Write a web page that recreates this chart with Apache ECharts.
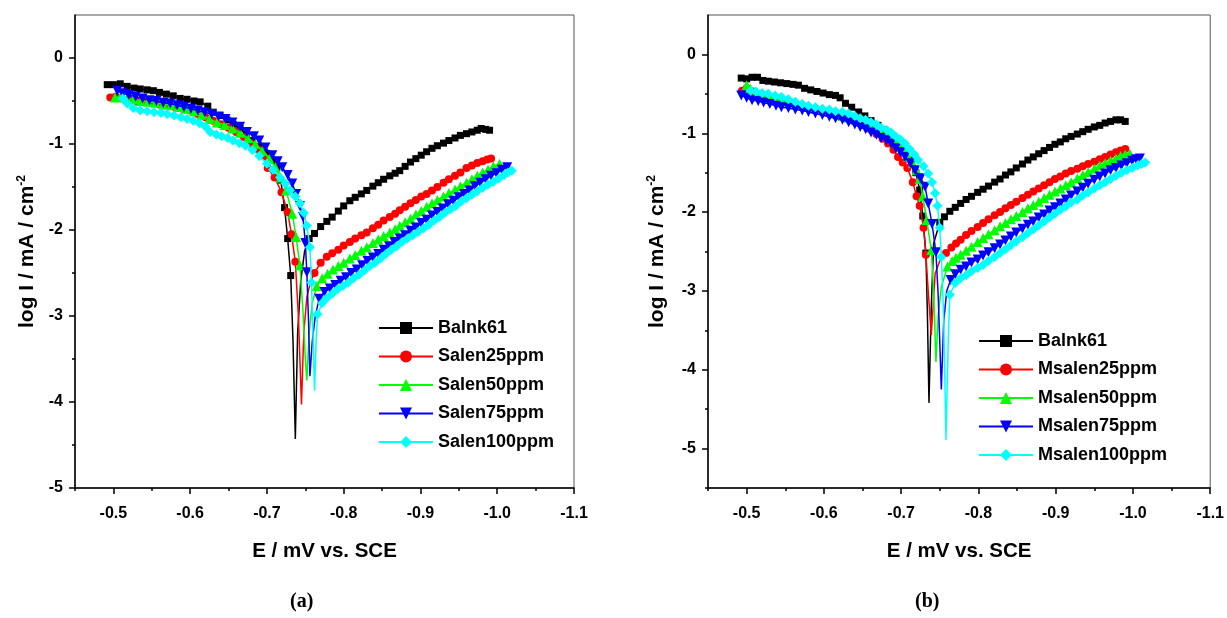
<!DOCTYPE html>
<html><head><meta charset="utf-8">
<script src="https://cdn.jsdelivr.net/npm/echarts@6/dist/echarts.min.js"></script>
<style>html,body{margin:0;padding:0;background:#fff}#c{width:1227px;height:618px}</style>
</head><body><div id="c"></div>
<script>
// ---------- tick values ----------
const xMajorTicks = [-0.5,-0.6,-0.7,-0.8,-0.9,-1.0,-1.1];
const xMinorTicks = [-0.45,-0.55,-0.65,-0.75,-0.85,-0.95,-1.05];
const yMajorTicksA = [-5,-4,-3,-2,-1,0];
const yMinorTicksA = [-4.5,-3.5,-2.5,-1.5,-0.5];
const yMajorTicksB = [-5,-4,-3,-2,-1,0];
const yMinorTicksB = [-5.5,-4.5,-3.5,-2.5,-1.5,-0.5];

const namesA = ['Balnk61','Salen25ppm','Salen50ppm','Salen75ppm','Salen100ppm'];
const namesB = ['Balnk61','Msalen25ppm','Msalen50ppm','Msalen75ppm','Msalen100ppm'];

// ---------- panel (a) : [E, log I] ----------
const aBlankCath = [[-0.492,-0.31],[-0.500,-0.31],[-0.509,-0.30],[-0.518,-0.33],[-0.527,-0.35],[-0.535,-0.36],[-0.544,-0.37],[-0.552,-0.38],[-0.560,-0.40],[-0.569,-0.42],[-0.578,-0.44],[-0.587,-0.47],[-0.596,-0.48],[-0.605,-0.50],[-0.613,-0.51],[-0.623,-0.56],[-0.630,-0.63],[-0.639,-0.67],[-0.648,-0.72],[-0.656,-0.77],[-0.665,-0.82],[-0.673,-0.89],[-0.681,-0.96],[-0.690,-1.03],[-0.700,-1.11],[-0.707,-1.19],[-0.713,-1.27],[-0.718,-1.42],[-0.723,-1.74],[-0.727,-2.10],[-0.731,-2.53]];
const aBlankSpike = [[-0.734,-3.3],[-0.737,-4.43],[-0.740,-3.2],[-0.744,-2.6],[-0.749,-2.25]];
const aBlankAnod = [[-0.755,-2.10],[-0.762,-2.04],[-0.770,-1.96],[-0.778,-1.90],[-0.785,-1.85],[-0.793,-1.78],[-0.800,-1.72],[-0.808,-1.66],[-0.815,-1.62],[-0.823,-1.58],[-0.830,-1.54],[-0.838,-1.49],[-0.845,-1.45],[-0.852,-1.41],[-0.860,-1.37],[-0.867,-1.34],[-0.873,-1.31],[-0.880,-1.26],[-0.887,-1.21],[-0.894,-1.17],[-0.901,-1.13],[-0.908,-1.09],[-0.915,-1.05],[-0.922,-1.02],[-0.930,-0.99],[-0.937,-0.96],[-0.945,-0.93],[-0.952,-0.90],[-0.960,-0.88],[-0.967,-0.86],[-0.974,-0.84],[-0.979,-0.82],[-0.985,-0.83],[-0.990,-0.84]];

const aS25Cath = [[-0.496,-0.46],[-0.503,-0.45],[-0.511,-0.47],[-0.520,-0.48],[-0.530,-0.50],[-0.540,-0.51],[-0.550,-0.52],[-0.560,-0.54],[-0.570,-0.55],[-0.580,-0.57],[-0.590,-0.59],[-0.600,-0.61],[-0.610,-0.65],[-0.620,-0.69],[-0.630,-0.73],[-0.640,-0.77],[-0.650,-0.81],[-0.660,-0.86],[-0.670,-0.92],[-0.680,-0.99],[-0.690,-1.07],[-0.696,-1.14],[-0.701,-1.28],[-0.710,-1.39],[-0.719,-1.56],[-0.727,-1.79],[-0.732,-2.05],[-0.737,-2.37]];
const aS25Spike = [[-0.741,-3.0],[-0.745,-4.03],[-0.748,-3.2],[-0.752,-2.78],[-0.757,-2.6]];
const aS25Anod = [[-0.762,-2.50],[-0.770,-2.38],[-0.778,-2.31],[-0.785,-2.27],[-0.793,-2.23],[-0.800,-2.18],[-0.808,-2.14],[-0.815,-2.10],[-0.823,-2.06],[-0.830,-2.03],[-0.838,-1.98],[-0.845,-1.94],[-0.852,-1.89],[-0.860,-1.85],[-0.867,-1.81],[-0.873,-1.77],[-0.880,-1.73],[-0.887,-1.69],[-0.894,-1.65],[-0.901,-1.61],[-0.908,-1.58],[-0.915,-1.54],[-0.922,-1.50],[-0.930,-1.45],[-0.937,-1.41],[-0.945,-1.37],[-0.952,-1.33],[-0.960,-1.28],[-0.967,-1.25],[-0.974,-1.22],[-0.981,-1.20],[-0.987,-1.18],[-0.992,-1.17]];

const aS50Cath = [[-0.502,-0.46],[-0.509,-0.45],[-0.518,-0.47],[-0.527,-0.48],[-0.536,-0.50],[-0.545,-0.51],[-0.555,-0.52],[-0.565,-0.54],[-0.575,-0.55],[-0.585,-0.57],[-0.595,-0.59],[-0.605,-0.62],[-0.615,-0.66],[-0.625,-0.71],[-0.635,-0.75],[-0.645,-0.78],[-0.655,-0.82],[-0.665,-0.87],[-0.675,-0.93],[-0.685,-1.00],[-0.694,-1.08],[-0.703,-1.17],[-0.711,-1.27],[-0.718,-1.39],[-0.725,-1.54],[-0.733,-1.81],[-0.738,-2.08],[-0.743,-2.41]];
const aS50Spike = [[-0.747,-2.95],[-0.750,-3.5],[-0.752,-3.75],[-0.755,-3.2],[-0.759,-2.85]];
const aS50Anod = [[-0.765,-2.65],[-0.772,-2.56],[-0.779,-2.51],[-0.786,-2.46],[-0.793,-2.42],[-0.800,-2.38],[-0.808,-2.33],[-0.815,-2.29],[-0.823,-2.24],[-0.830,-2.20],[-0.838,-2.15],[-0.845,-2.11],[-0.852,-2.07],[-0.860,-2.03],[-0.867,-1.99],[-0.873,-1.95],[-0.880,-1.91],[-0.887,-1.87],[-0.894,-1.82],[-0.901,-1.78],[-0.908,-1.73],[-0.915,-1.69],[-0.922,-1.65],[-0.930,-1.61],[-0.937,-1.57],[-0.945,-1.53],[-0.952,-1.49],[-0.960,-1.45],[-0.967,-1.41],[-0.974,-1.37],[-0.981,-1.33],[-0.988,-1.30],[-0.995,-1.26],[-1.003,-1.23]];

const aS75Cath = [[-0.505,-0.38],[-0.512,-0.41],[-0.520,-0.43],[-0.529,-0.45],[-0.538,-0.47],[-0.547,-0.49],[-0.556,-0.50],[-0.565,-0.52],[-0.574,-0.53],[-0.583,-0.55],[-0.592,-0.57],[-0.601,-0.59],[-0.610,-0.61],[-0.619,-0.63],[-0.628,-0.65],[-0.637,-0.68],[-0.646,-0.71],[-0.655,-0.75],[-0.665,-0.80],[-0.674,-0.86],[-0.683,-0.91],[-0.690,-0.96],[-0.698,-1.04],[-0.707,-1.13],[-0.714,-1.20],[-0.720,-1.27],[-0.727,-1.36],[-0.733,-1.46],[-0.738,-1.58],[-0.743,-1.72],[-0.747,-1.85],[-0.750,-2.15],[-0.752,-2.49]];
const aS75Spike = [[-0.754,-3.0],[-0.756,-3.7],[-0.759,-3.3],[-0.763,-3.0]];
const aS75Anod = [[-0.768,-2.80],[-0.775,-2.72],[-0.782,-2.68],[-0.789,-2.64],[-0.796,-2.59],[-0.803,-2.55],[-0.810,-2.50],[-0.817,-2.46],[-0.824,-2.41],[-0.831,-2.36],[-0.838,-2.32],[-0.845,-2.28],[-0.852,-2.23],[-0.859,-2.19],[-0.866,-2.14],[-0.873,-2.10],[-0.880,-2.06],[-0.887,-2.01],[-0.894,-1.97],[-0.901,-1.92],[-0.908,-1.88],[-0.915,-1.83],[-0.922,-1.79],[-0.929,-1.75],[-0.936,-1.70],[-0.943,-1.66],[-0.950,-1.62],[-0.957,-1.58],[-0.964,-1.54],[-0.971,-1.49],[-0.978,-1.45],[-0.985,-1.41],[-0.992,-1.37],[-0.999,-1.34],[-1.006,-1.30],[-1.013,-1.27]];

const aS100Cath = [[-0.512,-0.47],[-0.518,-0.53],[-0.526,-0.58],[-0.535,-0.61],[-0.544,-0.62],[-0.553,-0.63],[-0.562,-0.64],[-0.570,-0.65],[-0.579,-0.67],[-0.588,-0.69],[-0.596,-0.71],[-0.604,-0.73],[-0.612,-0.76],[-0.620,-0.80],[-0.626,-0.86],[-0.634,-0.89],[-0.641,-0.91],[-0.649,-0.93],[-0.656,-0.96],[-0.664,-0.99],[-0.672,-1.02],[-0.681,-1.07],[-0.690,-1.14],[-0.700,-1.23],[-0.708,-1.30],[-0.717,-1.39],[-0.724,-1.46],[-0.730,-1.54],[-0.737,-1.61],[-0.743,-1.69],[-0.748,-1.80],[-0.752,-1.95],[-0.756,-2.20],[-0.758,-2.61]];
const aS100Spike = [[-0.760,-3.2],[-0.762,-3.87],[-0.764,-3.3]];
const aS100Anod = [[-0.766,-2.98],[-0.772,-2.85],[-0.778,-2.79],[-0.785,-2.74],[-0.792,-2.69],[-0.799,-2.65],[-0.806,-2.61],[-0.813,-2.56],[-0.820,-2.52],[-0.827,-2.47],[-0.834,-2.42],[-0.841,-2.38],[-0.848,-2.33],[-0.855,-2.28],[-0.862,-2.23],[-0.869,-2.19],[-0.876,-2.14],[-0.883,-2.10],[-0.890,-2.06],[-0.897,-2.02],[-0.904,-1.98],[-0.911,-1.94],[-0.918,-1.89],[-0.925,-1.85],[-0.932,-1.80],[-0.939,-1.76],[-0.946,-1.72],[-0.953,-1.67],[-0.960,-1.63],[-0.967,-1.59],[-0.974,-1.55],[-0.981,-1.51],[-0.988,-1.47],[-0.995,-1.44],[-1.002,-1.40],[-1.009,-1.36],[-1.014,-1.33],[-1.019,-1.31]];

// ---------- panel (b) : [E, log I] ----------
const bBlankCath = [[-0.493,-0.30],[-0.500,-0.31],[-0.507,-0.29],[-0.514,-0.29],[-0.521,-0.33],[-0.528,-0.34],[-0.536,-0.35],[-0.544,-0.36],[-0.552,-0.37],[-0.560,-0.38],[-0.567,-0.39],[-0.575,-0.43],[-0.583,-0.45],[-0.591,-0.47],[-0.599,-0.49],[-0.607,-0.51],[-0.615,-0.52],[-0.621,-0.55],[-0.628,-0.62],[-0.636,-0.67],[-0.645,-0.73],[-0.653,-0.78],[-0.661,-0.84],[-0.670,-0.90],[-0.679,-0.96],[-0.687,-1.04],[-0.696,-1.13],[-0.705,-1.23],[-0.713,-1.34],[-0.719,-1.50],[-0.724,-1.72],[-0.728,-2.05],[-0.732,-2.52]];
const bBlankSpike = [[-0.734,-3.3],[-0.736,-4.42],[-0.739,-3.2],[-0.742,-2.4]];
const bBlankAnod = [[-0.750,-2.13],[-0.756,-2.06],[-0.763,-1.99],[-0.770,-1.94],[-0.777,-1.89],[-0.784,-1.84],[-0.791,-1.80],[-0.799,-1.75],[-0.806,-1.71],[-0.813,-1.67],[-0.821,-1.62],[-0.828,-1.58],[-0.835,-1.53],[-0.842,-1.49],[-0.849,-1.44],[-0.857,-1.39],[-0.864,-1.34],[-0.871,-1.30],[-0.878,-1.26],[-0.885,-1.22],[-0.892,-1.18],[-0.899,-1.14],[-0.906,-1.11],[-0.913,-1.07],[-0.920,-1.04],[-0.928,-1.01],[-0.935,-0.98],[-0.942,-0.95],[-0.950,-0.92],[-0.957,-0.90],[-0.964,-0.87],[-0.971,-0.85],[-0.978,-0.83],[-0.984,-0.83],[-0.990,-0.85]];

const bM25Cath = [[-0.494,-0.46],[-0.500,-0.43],[-0.508,-0.47],[-0.517,-0.52],[-0.526,-0.55],[-0.535,-0.57],[-0.545,-0.59],[-0.555,-0.62],[-0.565,-0.65],[-0.575,-0.67],[-0.585,-0.70],[-0.595,-0.72],[-0.605,-0.74],[-0.615,-0.77],[-0.625,-0.79],[-0.634,-0.82],[-0.643,-0.86],[-0.652,-0.90],[-0.660,-0.95],[-0.668,-1.01],[-0.676,-1.07],[-0.683,-1.13],[-0.690,-1.21],[-0.696,-1.30],[-0.702,-1.37],[-0.708,-1.44],[-0.715,-1.62],[-0.720,-1.80],[-0.724,-1.92],[-0.729,-2.20],[-0.732,-2.54]];
const bM25Spike = [[-0.735,-3.0],[-0.739,-3.56],[-0.742,-3.1],[-0.744,-2.78],[-0.750,-2.62]];
const bM25Anod = [[-0.758,-2.52],[-0.765,-2.45],[-0.771,-2.40],[-0.777,-2.35],[-0.784,-2.29],[-0.791,-2.24],[-0.799,-2.19],[-0.806,-2.14],[-0.813,-2.09],[-0.821,-2.04],[-0.828,-2.00],[-0.835,-1.95],[-0.842,-1.91],[-0.849,-1.87],[-0.857,-1.82],[-0.864,-1.78],[-0.871,-1.74],[-0.878,-1.70],[-0.885,-1.66],[-0.892,-1.62],[-0.899,-1.58],[-0.906,-1.55],[-0.913,-1.51],[-0.920,-1.48],[-0.928,-1.45],[-0.935,-1.42],[-0.942,-1.39],[-0.950,-1.36],[-0.957,-1.33],[-0.964,-1.30],[-0.971,-1.27],[-0.978,-1.24],[-0.984,-1.22],[-0.990,-1.20]];

const bM50Cath = [[-0.500,-0.39],[-0.505,-0.44],[-0.513,-0.48],[-0.521,-0.51],[-0.529,-0.53],[-0.537,-0.55],[-0.545,-0.56],[-0.554,-0.59],[-0.563,-0.61],[-0.572,-0.63],[-0.580,-0.66],[-0.589,-0.68],[-0.598,-0.70],[-0.607,-0.73],[-0.615,-0.75],[-0.624,-0.78],[-0.632,-0.80],[-0.641,-0.83],[-0.650,-0.86],[-0.658,-0.90],[-0.666,-0.94],[-0.673,-0.98],[-0.680,-1.02],[-0.686,-1.05],[-0.692,-1.09],[-0.698,-1.15],[-0.704,-1.22],[-0.709,-1.30],[-0.715,-1.38],[-0.720,-1.47],[-0.724,-1.58],[-0.728,-1.80],[-0.733,-2.10],[-0.739,-2.48]];
const bM50Spike = [[-0.742,-3.0],[-0.745,-3.9],[-0.748,-3.3],[-0.752,-2.95]];
const bM50Anod = [[-0.760,-2.69],[-0.766,-2.62],[-0.771,-2.58],[-0.777,-2.54],[-0.784,-2.49],[-0.791,-2.44],[-0.799,-2.38],[-0.806,-2.33],[-0.813,-2.28],[-0.821,-2.23],[-0.828,-2.18],[-0.835,-2.14],[-0.842,-2.09],[-0.849,-2.05],[-0.857,-2.00],[-0.864,-1.95],[-0.871,-1.91],[-0.878,-1.87],[-0.885,-1.82],[-0.892,-1.78],[-0.899,-1.74],[-0.906,-1.70],[-0.913,-1.66],[-0.920,-1.62],[-0.928,-1.57],[-0.935,-1.53],[-0.942,-1.49],[-0.950,-1.45],[-0.957,-1.41],[-0.964,-1.38],[-0.971,-1.35],[-0.978,-1.32],[-0.984,-1.29],[-0.990,-1.27],[-0.996,-1.26]];

const bM75Cath = [[-0.493,-0.52],[-0.500,-0.55],[-0.507,-0.58],[-0.515,-0.59],[-0.522,-0.61],[-0.530,-0.63],[-0.538,-0.65],[-0.545,-0.67],[-0.554,-0.68],[-0.563,-0.70],[-0.572,-0.71],[-0.580,-0.73],[-0.589,-0.75],[-0.598,-0.77],[-0.607,-0.79],[-0.615,-0.81],[-0.624,-0.83],[-0.632,-0.86],[-0.640,-0.89],[-0.647,-0.92],[-0.654,-0.95],[-0.661,-0.99],[-0.668,-1.02],[-0.674,-1.06],[-0.681,-1.09],[-0.687,-1.13],[-0.693,-1.19],[-0.699,-1.24],[-0.705,-1.30],[-0.712,-1.38],[-0.718,-1.47],[-0.725,-1.57],[-0.731,-1.68],[-0.735,-1.89],[-0.740,-2.15],[-0.745,-2.51]];
const bM75Spike = [[-0.748,-3.07],[-0.752,-4.25],[-0.755,-3.4],[-0.759,-3.0]];
const bM75Anod = [[-0.764,-2.86],[-0.770,-2.79],[-0.777,-2.73],[-0.784,-2.69],[-0.791,-2.64],[-0.799,-2.60],[-0.806,-2.55],[-0.813,-2.51],[-0.821,-2.46],[-0.828,-2.41],[-0.835,-2.36],[-0.842,-2.31],[-0.849,-2.26],[-0.857,-2.21],[-0.864,-2.16],[-0.871,-2.12],[-0.878,-2.07],[-0.885,-2.03],[-0.892,-1.98],[-0.899,-1.94],[-0.906,-1.89],[-0.913,-1.84],[-0.920,-1.79],[-0.928,-1.74],[-0.935,-1.69],[-0.942,-1.64],[-0.950,-1.59],[-0.957,-1.55],[-0.964,-1.51],[-0.971,-1.47],[-0.978,-1.44],[-0.985,-1.41],[-0.992,-1.38],[-0.999,-1.35],[-1.004,-1.33],[-1.009,-1.32]];

const bM100Cath = [[-0.505,-0.46],[-0.512,-0.47],[-0.520,-0.49],[-0.528,-0.50],[-0.537,-0.52],[-0.545,-0.54],[-0.554,-0.57],[-0.563,-0.60],[-0.572,-0.63],[-0.580,-0.65],[-0.589,-0.67],[-0.598,-0.69],[-0.607,-0.70],[-0.615,-0.72],[-0.624,-0.73],[-0.632,-0.75],[-0.640,-0.78],[-0.647,-0.81],[-0.654,-0.83],[-0.661,-0.86],[-0.668,-0.89],[-0.674,-0.93],[-0.681,-0.96],[-0.687,-0.99],[-0.693,-1.04],[-0.699,-1.08],[-0.705,-1.13],[-0.711,-1.20],[-0.717,-1.27],[-0.722,-1.34],[-0.729,-1.42],[-0.735,-1.51],[-0.740,-1.62],[-0.744,-1.76],[-0.747,-1.92],[-0.750,-2.20],[-0.752,-2.57]];
const bM100Spike = [[-0.755,-3.3],[-0.758,-4.89],[-0.761,-3.6]];
const bM100Anod = [[-0.763,-3.05],[-0.770,-2.90],[-0.777,-2.84],[-0.784,-2.80],[-0.791,-2.75],[-0.799,-2.71],[-0.806,-2.67],[-0.813,-2.62],[-0.821,-2.57],[-0.828,-2.52],[-0.835,-2.47],[-0.842,-2.42],[-0.849,-2.37],[-0.857,-2.32],[-0.864,-2.27],[-0.871,-2.22],[-0.878,-2.17],[-0.885,-2.12],[-0.892,-2.07],[-0.899,-2.02],[-0.906,-1.97],[-0.913,-1.93],[-0.920,-1.88],[-0.928,-1.84],[-0.935,-1.79],[-0.942,-1.75],[-0.950,-1.70],[-0.957,-1.66],[-0.964,-1.62],[-0.971,-1.58],[-0.978,-1.54],[-0.985,-1.50],[-0.992,-1.47],[-0.999,-1.44],[-1.006,-1.41],[-1.011,-1.39],[-1.016,-1.37]];

// ---------- styles ----------
const FONT = "'Liberation Sans', Arial, sans-serif";
const styles = [
  {color:'#000000', symbol:'rect', size:7, rotate:0},
  {color:'#ff0000', symbol:'circle', size:8, rotate:0},
  {color:'#00ff00', symbol:'triangle', size:10, rotate:0},
  {color:'#0000ff', symbol:'triangle', size:10, rotate:180},
  {color:'#00ffff', symbol:'diamond', size:10, rotate:0}
];
const curvesA = [[aBlankCath,aBlankSpike,aBlankAnod],[aS25Cath,aS25Spike,aS25Anod],[aS50Cath,aS50Spike,aS50Anod],[aS75Cath,aS75Spike,aS75Anod],[aS100Cath,aS100Spike,aS100Anod]];
const curvesB = [[bBlankCath,bBlankSpike,bBlankAnod],[bM25Cath,bM25Spike,bM25Anod],[bM50Cath,bM50Spike,bM50Anod],[bM75Cath,bM75Spike,bM75Anod],[bM100Cath,bM100Spike,bM100Anod]];

function buildSeries(names, curves, axisIdx) {
  return names.map((n, i) => {
    const st = styles[i];
    const [c, s, a] = curves[i];
    const data = c.map(p => ({value: p}))
      .concat(s.map(p => ({value: p, symbol: 'none'})))
      .concat(a.map(p => ({value: p})));
    return {
      type: 'line', name: n, xAxisIndex: axisIdx, yAxisIndex: axisIdx,
      data, symbol: st.symbol, symbolSize: st.size, symbolRotate: st.rotate,
      showAllSymbol: true, animation: false, z: 2 + i,
      lineStyle: {color: st.color, width: 1.5},
      itemStyle: {color: st.color, borderWidth: 0},
      emphasis: {disabled: true}
    };
  });
}

const grids = [
  {left: 75, top: 15, width: 499, height: 473},
  {left: 708, top: 15, width: 505, height: 473}
];

function xAxes(gi) {
  return [
    {type:'value', gridIndex: gi, min: -1.1, max: -0.45, inverse: true, position:'bottom',
     name: 'E / mV vs. SCE', nameLocation: 'middle', nameGap: 53,
     nameTextStyle: {fontFamily: FONT, fontWeight: 'bold', fontSize: 20.5, color: '#000'},
     axisLine: {onZero: false, lineStyle: {color: '#000', width: 1.5}},
     axisTick: {customValues: xMajorTicks, length: 6, lineStyle: {color: '#000', width: 1.5}},
     axisLabel: {customValues: xMajorTicks, margin: 18, formatter: v => v.toFixed(1),
       fontFamily: FONT, fontWeight: 'bold', fontSize: 16, color: '#000'},
     splitLine: {show: false}},
    {type:'value', gridIndex: gi, min: -1.1, max: -0.45, inverse: true, position:'bottom',
     axisLine: {show: false, onZero: false},
     axisTick: {customValues: xMinorTicks, length: 3, lineStyle: {color: '#000', width: 1.5}},
     axisLabel: {show: false}, splitLine: {show: false}}
  ];
}
function yAxes(gi, min, major, minor, gap) {
  return [
    {type:'value', gridIndex: gi, min: min, max: 0.5, position:'left',
     name: '{t|log I / mA / cm}{s|-2}', nameLocation: 'middle', nameGap: gap, nameRotate: 90,
     nameTextStyle: {rich: {
       t: {fontFamily: FONT, fontWeight: 'bold', fontSize: 21, color: '#000'},
       s: {fontFamily: FONT, fontWeight: 'bold', fontSize: 12, color: '#000', verticalAlign: 'top', padding: [0,0,10,0]}}},
     axisLine: {onZero: false, lineStyle: {color: '#000', width: 1.5}},
     axisTick: {customValues: major, length: 6, lineStyle: {color: '#000', width: 1.5}},
     axisLabel: {customValues: major, margin: 12, formatter: v => String(Math.round(v)),
       fontFamily: FONT, fontWeight: 'bold', fontSize: 16, color: '#000'},
     splitLine: {show: false}},
    {type:'value', gridIndex: gi, min: min, max: 0.5, position:'left',
     axisLine: {show: false, onZero: false},
     axisTick: {customValues: minor, length: 3, lineStyle: {color: '#000', width: 1.5}},
     axisLabel: {show: false}, splitLine: {show: false}}
  ];
}

const legendBase = {
  orient: 'vertical', itemWidth: 54, itemHeight: 15, itemGap: 8.5,
  textStyle: {fontFamily: FONT, fontWeight: 'bold', fontSize: 18, color: '#000', lineHeight: 20, padding: [0,0,0,0]},
  selectedMode: false, padding: 0
};

const option = {
  backgroundColor: '#fff',
  animation: false,
  grid: grids.map(g => Object.assign({show: true, borderColor: '#555', borderWidth: 1, containLabel: false}, g)),
  xAxis: [...xAxes(0), ...xAxes(1)],
  yAxis: [...yAxes(0, -5, yMajorTicksA, yMinorTicksA, 37), ...yAxes(1, -5.5, yMajorTicksB, yMinorTicksB, 40)],
  legend: [
    Object.assign({}, legendBase, {left: 378, top: 318, data: namesA}),
    Object.assign({}, legendBase, {left: 978, top: 331, data: namesB})
  ],
  series: [],
  graphic: [
    {type: 'text', left: 290, top: 592, style: {text: '(a)', font: "bold 20px 'Liberation Serif', 'Times New Roman', serif", fill: '#000'}},
    {type: 'text', left: 915, top: 592, style: {text: '(b)', font: "bold 20px 'Liberation Serif', 'Times New Roman', serif", fill: '#000'}}
  ]
};
option.series = buildSeries(namesA, curvesA, 0).concat(buildSeries(namesB, curvesB, 2));

const chart = echarts.init(document.getElementById('c'), null, {renderer: 'canvas'});
chart.setOption(option);
</script>
</body></html>
